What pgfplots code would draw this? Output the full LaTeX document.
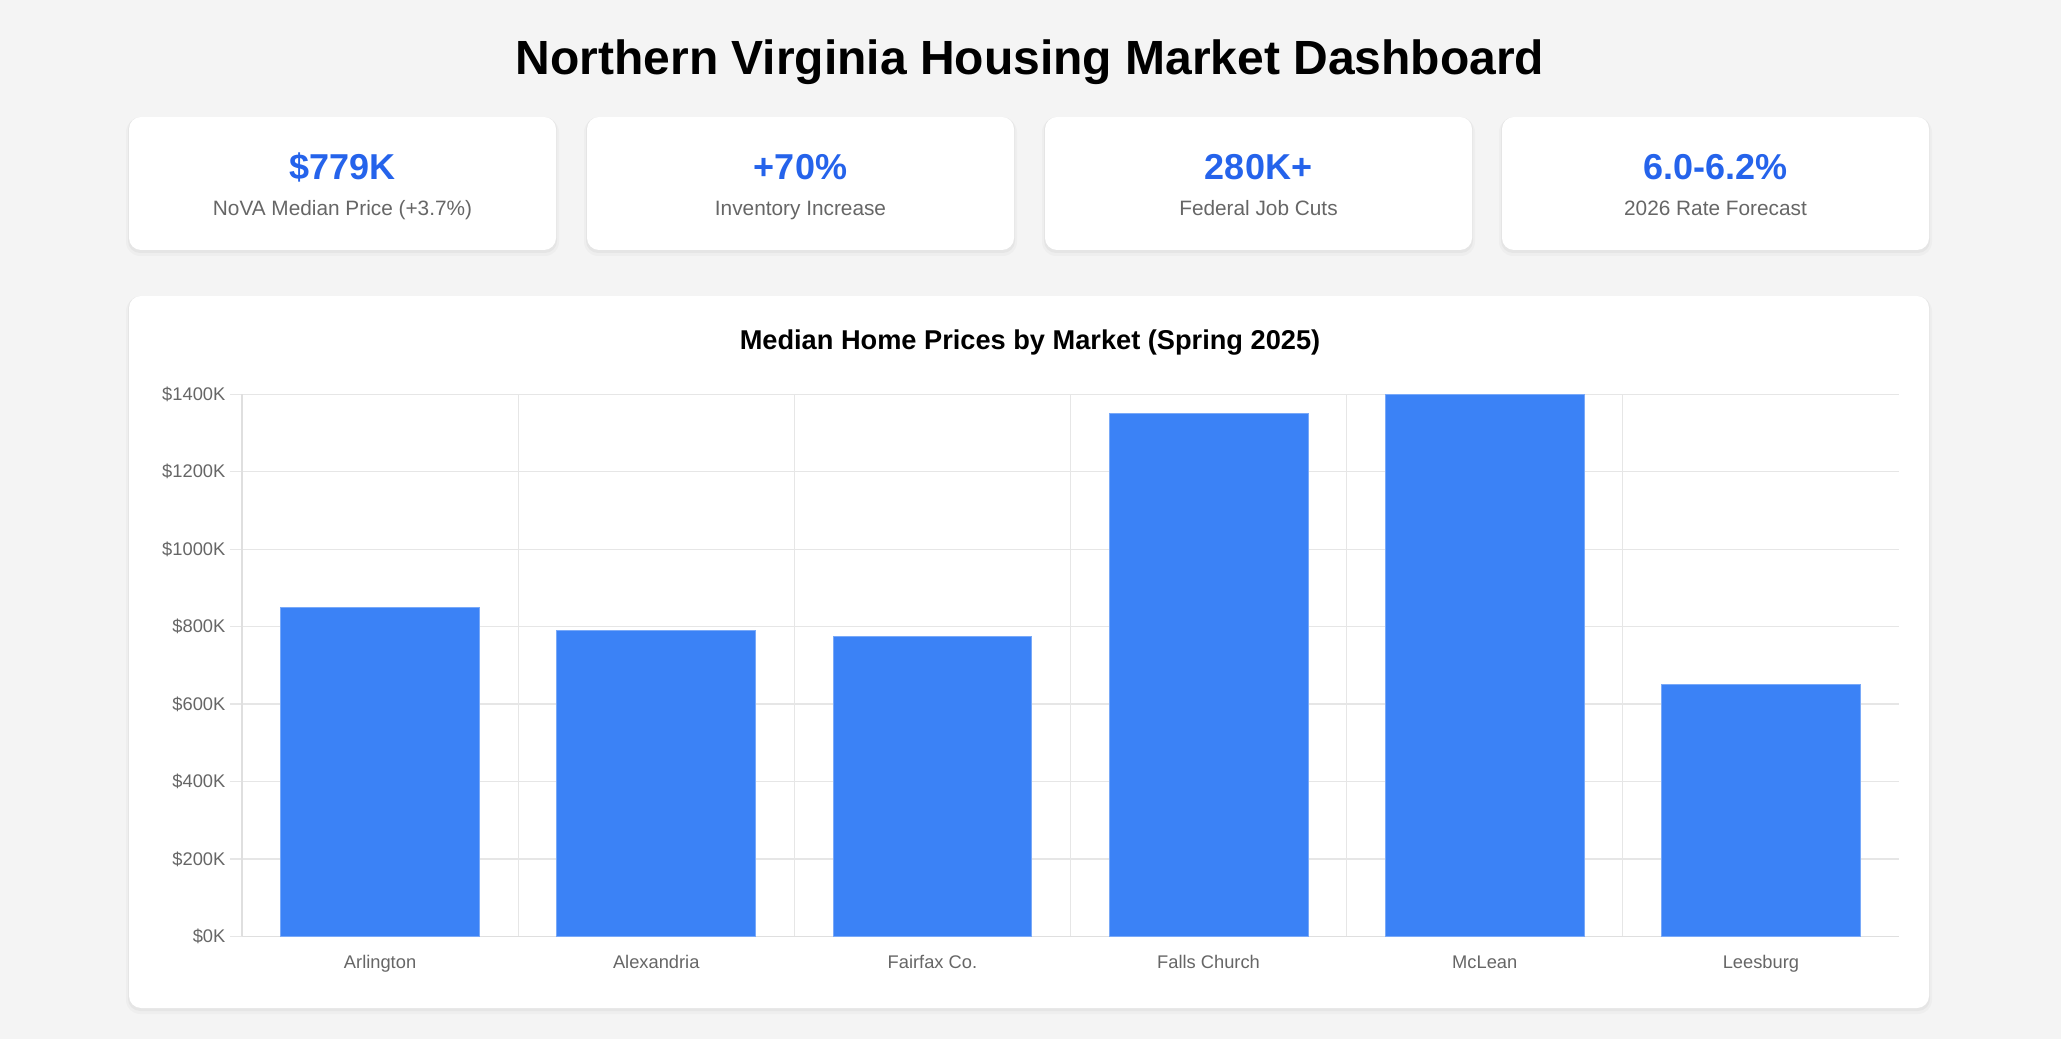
\documentclass[border=0pt]{standalone}
\usepackage{fontspec}
\setmainfont{Liberation Sans}
\usepackage{pgfplots}
\pgfplotsset{compat=1.18}

\definecolor{pagebg}{HTML}{F4F4F4}
\definecolor{valblue}{HTML}{2563EB}
\definecolor{labgray}{HTML}{666666}
\definecolor{barblue}{HTML}{3B82F6}
\definecolor{baredge}{HTML}{79A9F8}
\definecolor{gridc}{HTML}{E6E6E6}
\definecolor{axisc}{HTML}{DFDFDF}

% one unit = one pixel of the 2061x1039 reference (0.5pt), y measured from the bottom
\newcommand{\card}[4]{% left, bottom, right, top
  \fill[black, opacity=0.025, rounded corners=7pt] (#1-3,#2-6) rectangle (#3+3,#4-1);
  \fill[black, opacity=0.035, rounded corners=6pt] (#1-1,#2-3) rectangle (#3+1,#4);
  \fill[white, rounded corners=6pt] (#1,#2) rectangle (#3,#4);
}
\newcommand{\stat}[3]{% centre x, value, label
  \node[anchor=base, inner sep=0, text=valblue, font=\fontsize{18pt}{20pt}\selectfont\bfseries] at (#1,859) {#2};
  \node[anchor=base, inner sep=0, text=labgray, font=\fontsize{10.4pt}{12pt}\selectfont] at (#1,823) {#3};
}

\begin{document}
\begin{tikzpicture}[x=0.5pt, y=0.5pt]
\fill[pagebg] (0,0) rectangle (2061,1039);

\node[anchor=base, inner sep=0, font=\fontsize{24pt}{28pt}\selectfont\bfseries] at (1030,964)
  {Northern Virginia Housing Market Dashboard};

% stat cards
\card{129}{789}{556}{922}
\card{587}{789}{1014}{922}
\card{1045}{789}{1472}{922}
\card{1502}{789}{1929}{922}
\stat{342.5}{\$779K}{NoVA Median Price (+3.7\%)}
\stat{800.5}{+70\%}{Inventory Increase}
\stat{1258.5}{280K+}{Federal Job Cuts}
\stat{1715.5}{6.0-6.2\%}{2026 Rate Forecast}

% chart panel
\card{129}{31}{1929}{743}
\node[anchor=base, inner sep=0, font=\fontsize{13.6pt}{16pt}\selectfont\bfseries] at (1030,689)
  {Median Home Prices by Market (Spring 2025)};

\begin{axis}[
  at={(121pt,51.3pt)}, anchor=south west,
  width=828.5pt, height=271.1pt, scale only axis,
  xmin=-0.5, xmax=5.5, ymin=0, ymax=1400,
  clip=false,
  axis x line=bottom, axis y line=left,
  axis line style={axisc, line width=0.6pt, -},
  xtick={0,...,5},
  xticklabels={Arlington,Alexandria,Fairfax Co.,Falls Church,McLean,Leesburg},
  minor xtick={-0.5,0.5,1.5,2.5,3.5,4.5},
  ytick={0,200,...,1400},
  yticklabels={\$0K,\$200K,\$400K,\$600K,\$800K,\$1000K,\$1200K,\$1400K},
  tick align=outside,
  major tick length=6pt,
  minor tick length=5pt,
  xtick style={draw=none},
  ytick style={gridc, line width=0.6pt},
  minor x tick style={gridc, line width=0.6pt},
  ymajorgrids=true, xminorgrids=true,
  grid style={gridc, line width=0.6pt},
  minor grid style={gridc, line width=0.6pt},
  ticklabel style={font=\fontsize{9.15pt}{11pt}\selectfont, text=labgray},
  yticklabel style={xshift=1.2pt},
]
\addplot[ybar, bar width=0.72, fill=barblue, draw=baredge, line width=0.5pt]
  coordinates {(0,850) (1,790) (2,775) (3,1350) (4,1400) (5,650)};
\end{axis}
\end{tikzpicture}
\end{document}
